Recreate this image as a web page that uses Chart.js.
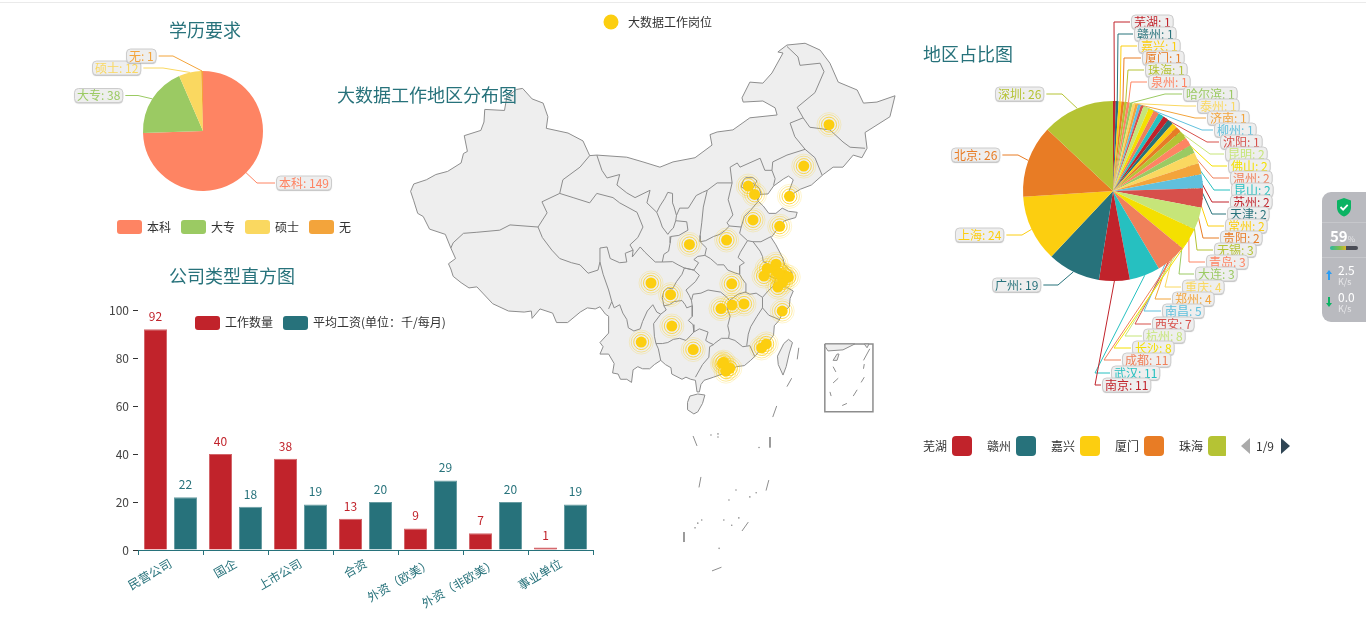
<!DOCTYPE html>
<html lang="zh">
<head>
<meta charset="utf-8">
<title>大数据工作分布</title>
<script src="https://cdn.jsdelivr.net/npm/chart.js@4/dist/chart.umd.min.js"></script>
<style>
html,body{margin:0;padding:0;background:#fff;overflow:hidden;width:1366px;height:640px;font-family:"Noto Sans CJK SC","Noto Sans",sans-serif}
canvas{position:absolute;left:0;top:0;pointer-events:none}
.topline{position:absolute;left:0;top:2px;width:100%;height:1px;background:#eaeaea}
.title{position:absolute;font-size:18px;line-height:24px;color:#27727b;white-space:nowrap;z-index:5}
.widget{position:absolute;left:1322px;top:192px;width:44px;height:130px;background:#b9babf;border-radius:9px 0 0 9px;color:#fff;z-index:6;overflow:hidden}
.widget div{position:absolute;white-space:nowrap}
</style>
</head>
<body>
<div class="topline"></div>
<div class="title" style="left:169px;top:17px">学历要求</div>
<div class="title" style="left:169px;top:263px">公司类型直方图</div>
<div class="title" style="left:337px;top:82px">大数据工作地区分布图</div>
<div class="title" style="left:923px;top:41px">地区占比图</div>
<canvas id="map" width="1366" height="640"></canvas>
<canvas id="edu" width="1366" height="640"></canvas>
<canvas id="company" width="1366" height="640"></canvas>
<canvas id="region" width="1366" height="640"></canvas>
<div class="widget">
  <svg style="position:absolute;left:14px;top:6px" width="16" height="19" viewBox="0 0 16 19"><path d="M8 0l7 2.5v7c0 4.5-3.2 7.6-7 9-3.8-1.4-7-4.5-7-9v-7z" fill="#0bb363"/><path d="M4.5 9l2.6 2.6 4.6-4.8" fill="none" stroke="#fff" stroke-width="1.8"/></svg>
  <div style="left:0;top:30px;width:44px;height:1px;background:#c6c7cb"></div>
  <div style="left:8px;top:35px;font-size:15px;line-height:18px;font-weight:700">59<span style="font-size:8px;font-weight:400;color:#e4e4e6">%</span></div>
  <div style="left:8px;top:54px;width:28px;height:4px;border-radius:2px;background:linear-gradient(90deg,#2bb7a0 0,#7fbf4a 35%,#d8b62a 56%,#4a4c55 57%,#4a4c55 100%)"></div>
  <div style="left:0;top:65px;width:44px;height:1px;background:#c6c7cb"></div>
  <div style="left:16px;top:71px;font-size:12px;line-height:14px">2.5</div>
  <div style="left:16px;top:84px;font-size:9px;line-height:11px;color:#e8e8ea">K/s</div>
  <svg style="position:absolute;left:4px;top:78px" width="6" height="10" viewBox="0 0 6 10"><path d="M3 0l3 4H4v6H2V4H0z" fill="#2a9df4"/></svg>
  <div style="left:16px;top:98px;font-size:12px;line-height:14px">0.0</div>
  <div style="left:16px;top:111px;font-size:9px;line-height:11px;color:#e8e8ea">K/s</div>
  <svg style="position:absolute;left:4px;top:105px" width="6" height="10" viewBox="0 0 6 10"><path d="M3 10l3-4H4V0H2v6H0z" fill="#0bb363"/></svg>
</div>
<script>
const FONT = '"Noto Sans CJK SC","Noto Sans",sans-serif';
const palette = ['#C1232B','#27727B','#FCCE10','#E87C25','#B5C334','#FE8463','#9BCA63','#FAD860','#F3A43B','#60C0DD','#D7504B','#C6E579','#F4E001','#F0805A','#26C0C0'];

// ---------- data ----------
const eduCategories = ['本科','大专','硕士','无'];
const eduValues = [149,38,12,1];

const companyCategories = ['民营公司','国企','上市公司','合资','外资（欧美）','外资（非欧美）','事业单位'];
const jobCounts = [92,40,38,13,9,7,1];
const avgSalaries = [22,18,19,20,29,20,19];

const regionCategories = ['芜湖','赣州','嘉兴','厦门','珠海','泉州','哈尔滨','泰州','济南','柳州','沈阳','昆明','佛山','温州','昆山','苏州','天津','常州','贵阳','无锡','青岛','大连','重庆','郑州','南昌','西安','杭州','长沙','成都','武汉','南京','广州','上海','北京','深圳'];
const regionValues = [1,1,1,1,1,1,1,1,1,1,1,2,2,2,2,2,2,2,2,3,3,3,4,4,5,7,8,8,11,11,11,19,24,26,26];

const cityNames = ['芜湖','嘉兴','厦门','珠海','泉州','哈尔滨','泰州','济南','柳州','沈阳','昆明','佛山','温州','昆山','苏州','天津','常州','贵阳','无锡','青岛','大连','重庆','郑州','南昌','西安','杭州','长沙','成都','武汉','南京','广州','上海','北京','深圳','九江'];
const cityLon = [118.38,120.75,118.09,113.58,118.68,126.63,119.92,117.0,109.42,123.43,102.83,113.12,120.7,120.98,120.62,117.2,119.95,106.71,120.3,120.38,121.62,106.55,113.65,115.86,108.94,120.15,112.94,104.07,114.3,118.78,113.26,121.47,116.4,114.06,114.34];
const cityLat = [31.33,30.75,24.48,22.27,24.87,45.75,32.46,36.67,24.33,41.8,25.04,23.02,28.0,31.39,31.3,39.1,31.78,26.57,31.57,36.07,38.92,29.56,34.76,28.68,34.34,30.28,28.23,30.67,30.59,32.04,23.13,31.23,39.9,22.55,28.57];

// map geometry, longitude/latitude pairs
const chinaOutline = [[87.8,49.2],[89.0,48.2],[90.4,47.8],[91.0,46.5],[90.8,45.4],[93.55,44.95],[95.45,44.2],[96.3,42.8],[97.2,42.85],[101.0,42.65],[103.05,42.2],[105.2,41.7],[106.86,42.2],[109.65,42.6],[111.8,43.8],[111.55,44.8],[112.45,45.05],[114.45,45.25],[116.6,46.4],[120.05,46.67],[119.8,47.35],[118.25,48.0],[115.75,47.9],[115.6,48.3],[116.6,49.8],[118.25,49.7],[119.4,50.67],[120.8,52.57],[120.15,52.67],[121.3,53.33],[123.6,53.5],[125.5,52.85],[126.75,51.6],[127.8,49.8],[130.2,49.05],[131.0,47.8],[132.7,47.9],[135.0,48.5],[134.35,46.5],[131.2,45],[131.45,43.5],[130.8,42.6],[129.7,42.85],[128.4,41.7],[127.15,41.7],[125.9,41],[124.4,40],[123,39.6],[121.2,38.75],[121.6,39.5],[122.1,40.5],[121.5,40.85],[120.9,40.6],[119.6,39.9],[118.9,39.15],[117.7,39.1],[117.6,38.5],[118.3,38.0],[119.0,37.3],[119.9,37.3],[120.7,37.8],[121.5,37.5],[122.6,37.4],[122.4,36.9],[121.0,36.6],[120.3,36.0],[119.3,35.0],[119.9,34.3],[120.8,33],[121.0,32.4],[121.9,31.7],[121.9,30.9],[121.0,30.6],[120.3,30.3],[121.2,30.3],[122.1,29.9],[121.7,29.2],[121.6,28.4],[120.8,27.9],[120.3,27.1],[119.7,26.6],[119.6,25.7],[118.9,25.0],[118.1,24.5],[117.4,23.8],[116.7,23.3],[115.9,22.8],[114.9,22.7],[114.2,22.4],[113.6,22.4],[113.1,22.0],[112.0,21.7],[110.8,21.4],[110.4,21.0],[110.2,20.3],[109.9,20.3],[109.7,21.4],[109.1,21.5],[108.5,21.7],[108.0,21.5],[106.7,22.0],[106.6,22.6],[105.9,22.9],[105.3,23.3],[104.5,22.9],[103.9,22.5],[103,22.5],[102.4,22.7],[101.8,22.4],[101.6,21.2],[101,21.5],[100.2,21.5],[99.9,22.0],[99.2,22.1],[99.4,23.0],[98.7,23.9],[97.6,23.9],[98.0,24.6],[97.6,25],[98.7,25.9],[98.7,27.5],[98.3,27.7],[97.6,28.4],[97.0,28.2],[96.0,28.3],[95.1,27.9],[93.5,26.9],[92.1,26.9],[91.6,27.8],[90,28.2],[89,27.3],[88.9,28],[88,27.9],[86,28],[84,28.7],[82,30.3],[81,30.2],[80,30.7],[79,31.3],[78.7,32],[78.4,32.5],[79.3,33],[78.7,34],[78,35.3],[76,35.8],[75.2,37],[74.5,37.3],[74,38.5],[73.6,39.4],[74,40.1],[75.6,40.5],[76.8,41],[78.3,41.3],[80,42.1],[80.3,43],[80.8,43.2],[80.4,44.7],[82.5,45.2],[82.9,46],[83,47.2],[85.5,47.1],[85.8,48.4],[87,49.1]];
const hainanOutline = [[108.7,19.3],[109,19.9],[110,20.1],[110.9,20],[110.6,19.2],[110,18.4],[109.5,18.2],[108.7,18.6]];
const taiwanOutline = [[121.5,25.3],[122,25],[121.6,24],[121.2,22.7],[120.8,21.9],[120.2,22.9],[120.1,23.7],[120.9,24.9]];
const provinceBorders = [
 [[96.3,42.8],[95.07,41.7],[93.8,41],[92.9,40.5],[92.5,39.2],[90.25,38.4],[90.9,37.35],[89.75,36],[86.2,36.2],[84.9,35.7],[82,35.5],[80.3,35.4],[79,34.5],[78.7,34]],
 [[92.5,39.2],[94.2,38.8],[96.3,38.3],[97.2,39.2],[99.25,38.8],[100.1,38.3],[102.3,37.4],[103.05,36],[102.4,35],[101.4,34.3],[101.8,33.8]],
 [[97.2,42.85],[97.85,41.4],[98.5,40.67],[100.1,41],[99.75,40],[101,39.25],[102.05,38.8],[103.95,39.5],[103.55,38.3],[104.8,37.4]],
 [[89.75,36],[90.3,35],[91.5,33.8],[92.5,33],[94,32.6],[95.07,32.4],[96.1,31.6],[97.35,31.9],[97.6,32.67]],
 [[97.6,32.67],[97.6,34],[98.5,34.1],[98.9,33],[100.1,32.6],[101,32.67],[100.8,33.5],[101.8,33.8],[101.7,33.15],[102.7,34.1],[103.3,33.6],[104.6,32.67],[105.5,32.67],[106.8,32.7],[107.5,32.4],[108.3,32.1],[109.5,31.9]],
 [[97.6,32.67],[98,31.5],[98.7,30],[99.1,28.9],[98.7,28.2]],
 [[99.1,28.9],[99.4,28.3],[100.1,28.6],[100.5,27.8],[101,27.2],[101.2,26.4],[101.9,26.1],[102.7,26.3],[103,27],[103.6,28],[104.3,28.6],[104.8,27.9],[105.3,27.7]],
 [[105.3,27.7],[104.4,26.8],[104.5,25.6],[104.7,24.9],[105.0,24.4],[105.3,23.3]],
 [[104.7,24.9],[105.5,24.9],[106.2,25],[106.9,25.3],[107.7,25.4],[108.5,25.2],[109.5,26]],
 [[105.3,27.7],[106,28.1],[105.7,28.5],[106.4,28.6],[107,28.9],[108,29],[108.4,28.6],[108.6,28.3],[109.3,28.5]],
 [[109.3,28.5],[109.3,27.5],[108.8,27.1],[109.4,26.7],[109.5,26],[110.2,26.3],[111.3,26],[111,25.2],[111.4,25],[112,24.8]],
 [[105.7,28.5],[105.5,29.3],[105.7,29.9],[106.2,30.2],[106.8,30.1],[107.3,30.8],[108,31.5],[108.3,32.1]],
 [[109.5,31.9],[110.2,31.4],[109.7,30.8],[108.5,30.0],[108.9,29.5],[109.2,29],[109.3,28.5]],
 [[109.2,29],[109.4,29.6],[110.4,29.7],[111.3,30],[112.9,29.8],[113.7,29.3],[114,29]],
 [[114,29],[115.1,29.6],[116,29.8],[116.1,30.6],[115.6,31.1],[115.3,31.5],[114.8,31.6],[113.8,31.9],[113.3,32.4],[112.5,32.4],[111.6,33],[110.9,33.3],[110,33.2],[109.5,32.9],[110.1,32.6],[109.5,31.9]],
 [[114,29],[113.7,28.3],[114.1,27.5],[113.8,26.6],[114,25.9],[113.9,25.4],[113,25.4],[112.1,24.9],[112,24.8],[111.5,24.6],[111.4,23.6],[110.6,22.9],[109.7,21.7]],
 [[113.9,25.4],[114.7,25.2],[115.7,24.6],[116.6,24.7],[117.2,23.7]],
 [[116.2,24.7],[116.4,25.8],[116.7,26.5],[117.5,27.5],[118.2,28.3],[119,27.6],[120.3,27.2]],
 [[118.2,28.3],[118.2,29.3],[118.9,29.9],[119.6,30.4],[119.9,31.1],[120.8,31],[121.3,30.7]],
 [[118.2,29.3],[117.4,29.7],[116.6,29.6],[116,29.8]],
 [[120.9,31.05],[121.3,31.5],[121.9,31.7]],
 [[119.9,31.1],[119.1,31.3],[118.5,31.9],[119.2,32.4],[118.3,32.7],[118.2,33.2],[117.9,33.7],[117,34.6],[116.3,34.7],[115.4,33.6],[115.1,33.1],[115.9,32.6],[115.3,32.3],[115.3,31.5]],
 [[117,34.6],[118,34.6],[119.3,35.1]],
 [[116.3,34.7],[115.3,35.4],[115.5,36],[114,36.1]],
 [[115.5,36],[115.9,37],[116.7,37.6],[117.6,38.4]],
 [[110.9,33.3],[111.1,34],[110.3,34.6],[111,34.7],[112,35.1],[112.8,35.3],[113.5,35.7],[114,36.1],[113.7,36.4],[114.45,37.15],[113.85,38.6],[114.35,40.2],[114.1,41.7],[115,42.1],[115.35,41.7],[117.9,42.55],[118.5,41.4],[119.4,41.4],[119.5,42.2],[121.3,42.85],[123.6,43.4],[124.85,42.6],[125.75,40.95]],
 [[119.4,41.4],[119.8,40.6],[119.6,39.95]],
 [[114.35,40.2],[112.45,40.2],[111.2,39.5],[110.7,37.9],[110.5,36.4],[110.3,35.2],[110.3,34.6]],
 [[111.2,39.5],[110.6,39.3],[109.8,39.0],[108.8,37.8],[107.7,37.8],[107.3,37.1],[107.2,36.6],[108.6,36.5],[108.75,35.7],[107.6,35.2],[106.6,35.1],[106.5,34.5],[106.3,33.7],[105.7,33.4],[105.5,32.67]],
 [[104.8,37.4],[105.2,36.67],[105.5,36],[106.2,35.3],[106.6,35.7],[106.9,35.9],[107.2,36.6]],
 [[107.3,37.1],[107,37.9],[106.8,38.3],[106.8,39.2],[106.2,39.3],[105.8,38.7],[105.2,38],[104.8,37.4]],
 [[109.5,31.9],[108.3,32.1]],
 [[121.3,53.2],[122.7,52.2],[122.95,51.4],[125.5,51.6],[126,50.8],[124.85,48.8],[122.6,47.4],[123.35,46.4],[121.7,45.9],[122.3,44.6],[123.6,43.4]],
 [[123.35,46.4],[124.2,45.5],[126.75,45.25],[128.4,44.1],[129.3,43.6],[131.2,43.5]],
 [[116.1,40.7],[117,40.7],[117.5,40.4],[116.9,39.6],[116.1,39.6],[115.5,39.8],[115.8,40.5],[116.1,40.7]],
 [[117,40.2],[117.8,39.7],[118,39.2],[117.6,38.6],[117.1,39.1],[116.9,39.6]]
];
const nineDashes = [[[122.8,24.5],[122.6,23.4]],[[121.9,21.6],[121.3,20.8]],[[120,18.96],[119.5,17.9]],[[109.4,16.1],[109.9,15.15]],[[110.4,12.2],[110.15,11.2]],[[108.25,6.95],[108.25,6]],[[111.8,3.25],[113,3.6]],[[115.6,7.05],[116.4,7.9]],[[118.65,10.9],[119,11.9]],[[119.15,16],[119.15,15]]];
const smallIslands = [[111.67,16.2],[112.56,16.3],[112.56,16],[117.76,15],[114.84,10.95],[116.6,10.3],[117.4,10.7],[113.95,10],[110.5,8.1],[110,7.8],[109.65,7.35],[113.3,8.1],[115.2,8.3],[114.3,7.6],[112.7,5.4]];
const insetFrame = [[126.1,24.86],[132.2,24.86],[132.2,18.4],[126.1,18.4],[126.1,24.86]];
const insetLand = [[[126.1,24.67],[126.5,24.2],[128.4,24.3],[129.9,24.86],[126.1,24.86]],[[131.1,24.86],[131.45,24.5],[131.7,24.86]],[[127.15,23.3],[127.65,23.9],[127.9,23.9],[127.65,23.3]]];
const insetDashes = [[[127.15,22.7],[127.5,22.2]],[[127.8,21.6],[127.15,21.15]],[[126.75,20.3],[126.9,19.9]],[[128.9,19.2],[128.3,19]],[[130.2,20.5],[129.7,19.9]],[[131.1,21.7],[130.7,21.2]],[[131.1,22.95],[131,22.5]],[[131.8,24.4],[131.0,23.3]]];

// ---------- layout of the label call-outs ----------
const regionLabelX = [1134,1137,1141,1145,1148,1151,1186,1200,1210,1217,1223,1228,1231,1233,1234,1233,1230,1228,1223,1217,1209,1198,1185,1175,1165,1155,1146,1135,1125,1114,1105,995,958,954,998];
const regionLabelY = [22,34,46,58,70,82,94,106,118,130,142,154,166,178,190,202,214,226,238,250,262,274,287,299,311,324,336,348,360,373,385,285,235,155,94];
const regionElbowX = [1114,1118,1121,1124,1128,1131,1165,1185,1195,1202,1207,1210,1212,1213,1214,1212,1212,1208,1203,1197,1189,1179,1165,1155,1144,1135,1125,1114,1104,1095,1095,1058,1022,1018,1062];
const eduLabelX = [279,77,95,129];
const eduLabelY = [183,95.5,68,56];
const eduElbowX = [257,138,163,173];

// ---------- helpers ----------
const toPts = pairs => pairs.map(p => ({x:p[0], y:p[1]}));
function pieLeaders(ctx, chart, labels, values, colors, lx, ly, ex){
  const arcs = chart.getDatasetMeta(0).data;
  ctx.save();
  ctx.font = '12px ' + FONT;
  arcs.forEach((arc, i) => {
    const w = ctx.measureText(labels[i] + ': ' + values[i]).width;
    const mid = (arc.startAngle + arc.endAngle) / 2;
    const sx = arc.x + Math.cos(mid) * arc.outerRadius;
    const sy = arc.y + Math.sin(mid) * arc.outerRadius;
    const leftSide = ex[i] < sx && lx[i] < ex[i];
    const endX = leftSide ? lx[i] + w + 5 : lx[i] - 4;
    ctx.strokeStyle = colors[i % colors.length];
    ctx.lineWidth = 1;
    ctx.beginPath();
    ctx.moveTo(sx, sy);
    ctx.lineTo(ex[i], ly[i]);
    ctx.lineTo(endX, ly[i]);
    ctx.stroke();
  });
  ctx.restore();
}
function pieBoxes(ctx, chart, labels, values, colors, lx, ly){
  const arcs = chart.getDatasetMeta(0).data;
  ctx.save();
  ctx.font = '12px ' + FONT;
  ctx.textBaseline = 'middle';
  arcs.forEach((arc, i) => {
    const text = labels[i] + ': ' + values[i];
    const w = ctx.measureText(text).width;
    ctx.save();
    ctx.shadowColor = 'rgba(0,0,0,0.25)';
    ctx.shadowBlur = 1;
    ctx.shadowOffsetY = 1;
    ctx.fillStyle = '#eeeeee';
    ctx.beginPath();
    ctx.roundRect(lx[i] - 2.5, ly[i] - 7, w + 5, 14, 4);
    ctx.fill();
    ctx.restore();
    ctx.strokeStyle = '#cccccc';
    ctx.stroke();
    ctx.fillStyle = colors[i % colors.length];
    ctx.fillText(text, lx[i], ly[i]);
  });
  ctx.restore();
}
function swatch(ctx, x, y, w, h, color, r){
  ctx.fillStyle = color;
  ctx.beginPath();
  ctx.roundRect(x, y, w, h, r);
  ctx.fill();
}
function legendText(ctx, text, x, y){
  ctx.font = '12px ' + FONT;
  ctx.textBaseline = 'middle';
  ctx.textAlign = 'left';
  ctx.fillStyle = '#333';
  ctx.fillText(text, x, y);
}
const quiet = {legend:{display:false}, tooltip:{enabled:false}, title:{display:false}};
Chart.defaults.font.family = FONT;
Chart.defaults.animation = false;

// ---------- map ----------
const ring = (r, color, w) => ({
  type:'scatter', data: cityLon.map((x,i)=>({x, y:cityLat[i]})), showLine:false,
  pointRadius:r, pointBackgroundColor:'rgba(0,0,0,0)', pointBorderColor:color, pointBorderWidth:w||1, clip:false
});
const landStyle = {type:'scatter', showLine:true, borderColor:'#8d8d8d', borderWidth:1, backgroundColor:'#eeeeee', fill:'shape', pointRadius:0, tension:0, clip:false};
const lineStyle = {type:'scatter', showLine:true, borderColor:'#8d8d8d', borderWidth:1, fill:false, pointRadius:0, tension:0, clip:false};
const closeLoop = a => a.concat([a[0]]);
// Chart.js paints the first dataset last, so the points come first and the land last
const mapDatasets = [
    {type:'scatter', label:'大数据工作岗位', data:cityLon.map((x,i)=>({x,y:cityLat[i]})), showLine:false, pointRadius:5.5, pointBackgroundColor:'#FCCE10', pointBorderWidth:0, clip:false},
    ring(7.5,'rgba(252,206,16,0.75)'),
    ring(10,'rgba(252,206,16,0.42)'),
    ring(12,'rgba(252,206,16,0.2)'),
    ...insetDashes.map(b=>({...lineStyle, data:toPts(b)})),
    ...insetLand.map(b=>({...landStyle, data:toPts(closeLoop(b))})),
    {...lineStyle, data:toPts(insetFrame), borderWidth:1.5},
    {type:'scatter', showLine:false, data:toPts(smallIslands), pointRadius:0.8, pointBackgroundColor:'#8d8d8d', pointBorderWidth:0, clip:false},
    ...nineDashes.map(b=>({...lineStyle, data:toPts(b)})),
    ...provinceBorders.map(b=>({...lineStyle, data:toPts(b)})),
    {...landStyle, data:toPts(closeLoop(taiwanOutline))},
    {...landStyle, data:toPts(closeLoop(hainanOutline))},
    {...landStyle, data:toPts(closeLoop(chinaOutline))}
];
new Chart(document.getElementById('map'), {
  type:'scatter',
  data:{datasets:mapDatasets},
  options:{
    responsive:false, animation:false, plugins:quiet,
    layout:{autoPadding:false},
    scales:{
      x:{type:'linear', display:false, bounds:'data', min:21.56, max:194.69},
      y:{type:'linear', display:false, bounds:'data', min:-3.33, max:57.62}
    }
  },
  plugins:[{id:'mapLegend', afterDraw(c){
    const ctx=c.ctx; ctx.save();
    ctx.fillStyle='#FCCE10'; ctx.beginPath(); ctx.arc(611,22,7.5,0,Math.PI*2); ctx.fill();
    legendText(ctx,'大数据工作岗位',628,22);
    ctx.restore();
  }}]
});

// ---------- education pie ----------
const eduColors = ['#FE8463','#9BCA63','#FAD860','#F3A43B'];
new Chart(document.getElementById('edu'), {
  type:'pie',
  data:{labels:eduCategories, datasets:[{data:eduValues, backgroundColor:eduColors, borderWidth:0, radius:60}]},
  options:{
    responsive:false, animation:false, plugins:quiet,
    layout:{padding:{left:0, right:1366-406, top:0, bottom:640-262}},
  },
  plugins:[{id:'eduDeco',
    beforeDatasetsDraw(c){ pieLeaders(c.ctx,c,eduCategories,eduValues,eduColors,eduLabelX,eduLabelY,eduElbowX); },
    afterDraw(c){
      const ctx=c.ctx;
      pieBoxes(ctx,c,eduCategories,eduValues,eduColors,eduLabelX,eduLabelY);
      ctx.save();
      eduCategories.forEach((t,i)=>{
        const x=117+64*i;
        swatch(ctx,x,220,25,14,eduColors[i],3);
        legendText(ctx,t,x+30,227);
      });
      ctx.restore();
    }}]
});

// ---------- company bars ----------
const barLabels = {id:'barLabels', afterDatasetsDraw(c){
  const ctx=c.ctx; ctx.save();
  ctx.font='12px '+FONT; ctx.textAlign='center'; ctx.textBaseline='alphabetic';
  c.data.datasets.forEach((ds,d)=>{
    c.getDatasetMeta(d).data.forEach((bar,i)=>{
      ctx.fillStyle=ds.backgroundColor;
      ctx.fillText(String(ds.data[i]),bar.x,bar.y-8);
    });
  });
  swatch(ctx,195,316,25,14,'#C1232B',3);
  legendText(ctx,'工作数量',225,322);
  swatch(ctx,283,316,25,14,'#27727B',3);
  legendText(ctx,'平均工资(单位：千/每月)',313,322);
  ctx.restore();
}};
new Chart(document.getElementById('company'), {
  type:'bar',
  data:{labels:companyCategories, datasets:[
    {label:'工作数量', data:jobCounts, backgroundColor:'#C1232B', borderColor:'rgba(193,35,43,0.7)', borderWidth:1, categoryPercentage:60/65, barPercentage:23/30},
    {label:'平均工资(单位：千/每月)', data:avgSalaries, backgroundColor:'#27727B', borderColor:'rgba(39,114,123,0.7)', borderWidth:1, categoryPercentage:60/65, barPercentage:23/30}
  ]},
  options:{
    responsive:false, animation:false, plugins:quiet,
    layout:{padding:{left:100, right:1366-593, top:310, bottom:30}},
    scales:{
      x:{
        afterFit:s=>{s.height=60;},
        border:{color:'#27727B', width:1},
        grid:{display:true, drawOnChartArea:false, offset:true, tickLength:5, color:'#27727B'},
        ticks:{color:'#27727B', minRotation:30, maxRotation:30, autoSkip:false, font:{size:12}, padding:1}
      },
      y:{
        min:0, max:100,
        afterFit:s=>{s.width=38;},
        border:{display:false},
        grid:{display:true, drawOnChartArea:false, tickLength:5, tickColor:'#333', color:'#333'},
        ticks:{stepSize:20, color:'#444', font:{size:12}, padding:4}
      }
    }
  },
  plugins:[barLabels]
});

// ---------- region pie ----------
const regionColors = regionCategories.map((_,i)=>palette[i%palette.length]);
new Chart(document.getElementById('region'), {
  type:'pie',
  data:{labels:regionCategories, datasets:[{data:regionValues, backgroundColor:regionColors, borderWidth:0, radius:90}]},
  options:{
    responsive:false, animation:false, plugins:quiet,
    layout:{padding:{left:860, right:0, top:0, bottom:640-382}},
  },
  plugins:[{id:'regionDeco',
    beforeDatasetsDraw(c){ pieLeaders(c.ctx,c,regionCategories,regionValues,palette,regionLabelX,regionLabelY,regionElbowX); },
    afterDraw(c){
      const ctx=c.ctx;
      pieBoxes(ctx,c,regionCategories,regionValues,palette,regionLabelX,regionLabelY);
      ctx.save();
      regionCategories.slice(0,5).forEach((t,i)=>{
        const x=923+64*i;
        legendText(ctx,t,x,446);
        ctx.save();
        ctx.beginPath(); ctx.rect(x+29,430,i===4?18:25,30); ctx.clip();
        swatch(ctx,x+29,436,20,20,palette[i],4);
        ctx.restore();
      });
      ctx.fillStyle='#aaaaaa';
      ctx.beginPath(); ctx.moveTo(1250,438); ctx.lineTo(1250,454); ctx.lineTo(1241,446); ctx.closePath(); ctx.fill();
      legendText(ctx,'1/9',1256,446);
      ctx.fillStyle='#2f4554';
      ctx.beginPath(); ctx.moveTo(1281,438); ctx.lineTo(1281,454); ctx.lineTo(1290,446); ctx.closePath(); ctx.fill();
      ctx.restore();
    }}]
});
</script>
</body>
</html>
